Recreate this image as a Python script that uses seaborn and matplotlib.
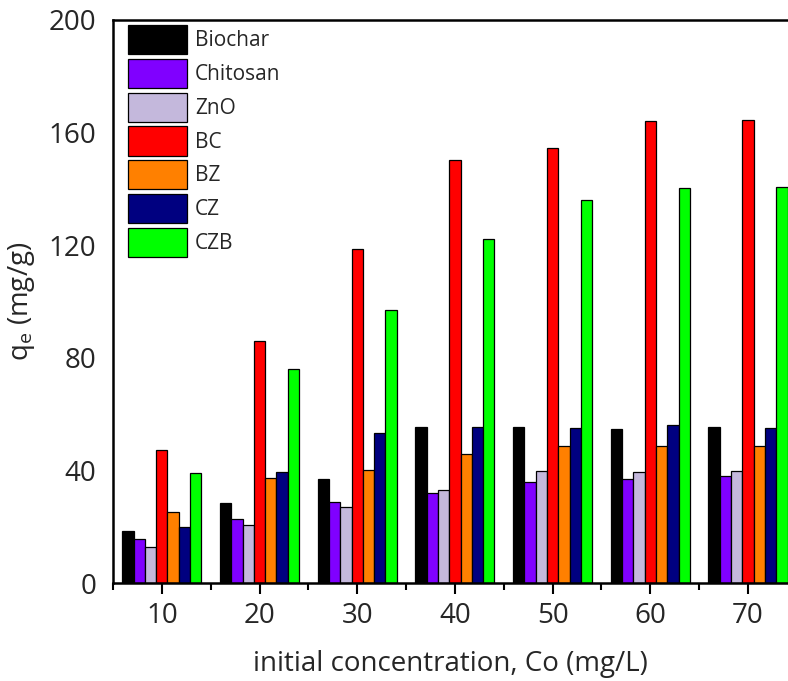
import matplotlib
matplotlib.use("Agg")
import matplotlib.pyplot as plt
import seaborn as sns
import pandas as pd

concentrations = ["10", "20", "30", "40", "50", "60", "70"]
materials = ["Biochar", "Chitosan", "ZnO", "BC", "BZ", "CZ", "CZB"]
biochar = [18.6, 28.5, 36.8, 55.5, 55.5, 54.7, 55.5]
chitosan = [15.5, 22.8, 28.9, 31.9, 36.0, 36.9, 38.0]
zno = [12.9, 20.6, 27.1, 33.0, 39.8, 39.3, 39.9]
bc = [47.2, 86.1, 118.5, 150.3, 154.6, 164.1, 164.5]
bz = [25.3, 37.2, 40.1, 45.8, 48.6, 48.8, 48.7]
cz = [19.8, 39.5, 53.2, 55.5, 55.2, 56.1, 55.2]
czb = [39.0, 75.9, 97.0, 122.1, 136.1, 140.2, 140.6]
colors = ["#000000", "#8000FF", "#C4B8DC", "#FF0000", "#FF8000", "#000080", "#00FF00"]

series = [biochar, chitosan, zno, bc, bz, cz, czb]
rows = []
for m, vals in zip(materials, series):
    for c, v in zip(concentrations, vals):
        rows.append({"conc": c, "material": m, "qe": v})
df = pd.DataFrame(rows)

sns.set_theme(style="white")
plt.rcParams["font.family"] = ["Open Sans", "DejaVu Sans"]
plt.rcParams["mathtext.fontset"] = "custom"
plt.rcParams["mathtext.rm"] = "Open Sans"
plt.rcParams["mathtext.it"] = "Open Sans"
plt.rcParams["mathtext.default"] = "regular"

fig = plt.figure(figsize=(7.88, 6.81), dpi=100)
ax = fig.add_axes([113 / 788, 1 - 583 / 681, 675 / 788, 563 / 681])

sns.barplot(data=df, x="conc", y="qe", hue="material", order=concentrations,
            hue_order=materials, palette=colors, width=0.81, saturation=1,
            edgecolor="black", linewidth=0.9, ax=ax)

ax.set_xlim(-0.49, 6.41)
ax.set_ylim(0, 200)
ax.set_yticks([0, 40, 80, 120, 160, 200])
ax.set_xticks(range(len(concentrations)))
ax.set_xticklabels(concentrations)
ax.set_xticks([i - 0.5 for i in range(len(concentrations))], minor=True)
ax.tick_params(axis="x", which="major", direction="out", length=8, width=1.5,
               color="black", labelsize=20, pad=6, bottom=True)
ax.tick_params(axis="x", which="minor", direction="out", length=5, width=1.5,
               color="black", bottom=True)
ax.tick_params(axis="y", length=0, labelsize=20, pad=12)

for side in ["left", "bottom", "top"]:
    ax.spines[side].set_visible(True)
    ax.spines[side].set_color("black")
    ax.spines[side].set_linewidth(1.8)
ax.spines["right"].set_visible(False)

ax.set_xlabel("initial concentration, Co (mg/L)", fontsize=20, labelpad=14)
ax.set_ylabel("q$_{e}$ (mg/g)", fontsize=20, labelpad=8)

handles, labels = ax.get_legend_handles_labels()
for h in handles:
    h.set_edgecolor("black")
    h.set_linewidth(0.9)
ax.legend(handles, labels, loc="upper left",
          bbox_to_anchor=(15 / 675, 1 - 5 / 563), borderaxespad=0, borderpad=0,
          frameon=False, fontsize=15, handlelength=2.84, handleheight=1.78,
          labelspacing=0.22, handletextpad=0.38)

fig.savefig("out.png", dpi=100)
